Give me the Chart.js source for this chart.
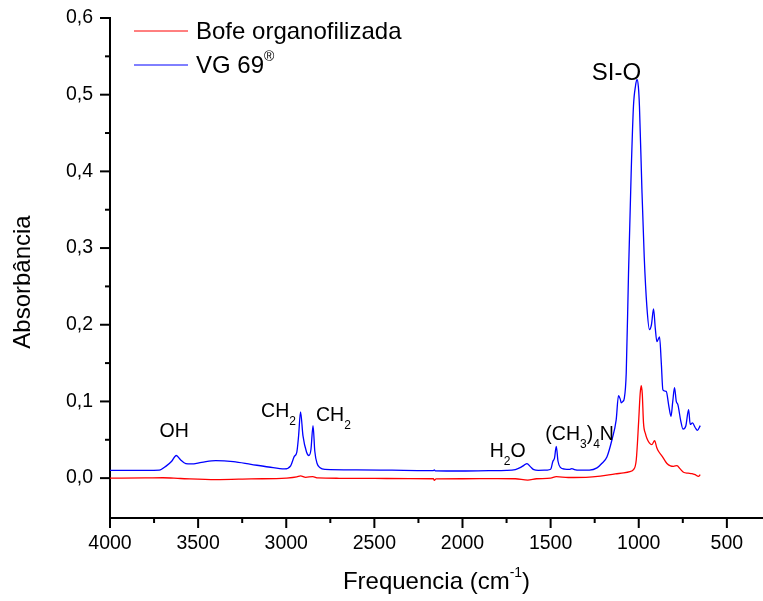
<!DOCTYPE html>
<html>
<head>
<meta charset="utf-8">
<script src="https://cdn.jsdelivr.net/npm/chart.js@4.4.1/dist/chart.umd.min.js"></script>
<style>
  body { margin: 0; background: #fff; }
  canvas { display: block; }
</style>
</head>
<body>
<canvas id="ftir" width="763" height="601"></canvas>
<script>
// wavenumber (cm-1) / absorbance
const wnRed = [4000, 3800, 3700, 3600, 3400, 3200, 3000, 2940, 2919, 2890, 2850, 2820, 2700, 2500, 2300,
  2165, 2160, 2150, 2000, 1800, 1700, 1630, 1580, 1500, 1468, 1400, 1300, 1218, 1133, 1086, 1050, 1030,
  1014, 1001, 992, 986, 980, 973, 962, 954, 940, 925, 910, 898, 888, 869, 855, 840, 820, 803, 783, 765,
  746, 720, 698, 680, 661, 651];
const absRed = [0.0, 0.0002, 0.0005, -0.0005, -0.002, -0.001, 0.0, 0.0015, 0.003, 0.001, 0.002, 0.0002, -0.0002, -0.0004, -0.0006,
  -0.0008, -0.003, -0.001, -0.0008, -0.0006, -0.0008, -0.0025, -0.0008, 0.0, 0.002, 0.0008, 0.001, 0.0025, 0.0055, 0.0068, 0.0085, 0.011,
  0.024, 0.072, 0.11, 0.1206, 0.11, 0.072, 0.058, 0.052, 0.046, 0.0437, 0.049, 0.04, 0.035, 0.029, 0.024, 0.019, 0.016, 0.0154, 0.0163, 0.012,
  0.0076, 0.0065, 0.0059, 0.0045, 0.0023, 0.0046];

const wnBlue = [4000, 3800, 3720, 3680, 3650, 3624, 3600, 3570, 3540, 3480, 3400, 3300, 3200, 3100, 3010,
  2975, 2955, 2940, 2930, 2919, 2905, 2885, 2872, 2860, 2848, 2838, 2825, 2808, 2780, 2600, 2400, 2200,
  2165, 2160, 2155, 2000, 1850, 1750, 1700, 1670, 1650, 1634, 1615, 1595, 1570, 1520, 1500, 1487, 1478,
  1468, 1458, 1445, 1420, 1390, 1379, 1365, 1330, 1280, 1237, 1210, 1180, 1152, 1128, 1115, 1105, 1099,
  1090, 1082, 1071, 1058, 1043, 1030, 1018, 1010, 1002, 996, 982, 969, 954, 939, 928, 916, 906, 897, 882,
  872, 863, 844, 830, 817, 807, 797, 787, 778, 762, 749, 733, 717, 708, 695, 680, 667, 651];
const absBlue = [0.01, 0.0102, 0.0105, 0.016, 0.022, 0.0295, 0.024, 0.019, 0.0185, 0.0205, 0.0228, 0.0215, 0.018, 0.0145, 0.012,
  0.016, 0.028, 0.034, 0.055, 0.0863, 0.055, 0.034, 0.0295, 0.037, 0.0684, 0.035, 0.019, 0.0135, 0.0115, 0.0108, 0.0103, 0.0098,
  0.0098, 0.0108, 0.0096, 0.0093, 0.0097, 0.01, 0.0112, 0.014, 0.017, 0.019, 0.015, 0.011, 0.0102, 0.0105, 0.0115, 0.022, 0.026,
  0.0415, 0.022, 0.014, 0.0118, 0.0115, 0.0125, 0.0112, 0.0105, 0.0105, 0.0133, 0.019, 0.028, 0.05, 0.076, 0.1076, 0.103, 0.098,
  0.1, 0.104, 0.137, 0.2675, 0.398, 0.485, 0.512, 0.52, 0.51, 0.485, 0.376, 0.289, 0.224, 0.1936, 0.2, 0.2206, 0.195, 0.178, 0.184,
  0.15, 0.115, 0.113, 0.095, 0.0806, 0.1, 0.118, 0.1, 0.0958, 0.075, 0.064, 0.068, 0.0893, 0.07, 0.072, 0.066, 0.0623, 0.0685];

const seriesNames = ['Bofe organofilizada', 'VG 69'];
const xMajor = [4000, 3500, 3000, 2500, 2000, 1500, 1000, 500];
const xMinor = [3750, 3250, 2750, 2250, 1750, 1250, 750];
const yMajor = [0, 0.1, 0.2, 0.3, 0.4, 0.5, 0.6];
const yMinor = [0.05, 0.15, 0.25, 0.35, 0.45, 0.55];

// band labels: [wavenumber, absorbance] anchor of left/middle of text, then text pieces
const bandLabels = [
  { wn: 3719, a: 0.0606, parts: [['OH']] },
  { wn: 3143, a: 0.0863, parts: [['CH'], ['2', 'sub']] },
  { wn: 2831, a: 0.0819, parts: [['CH'], ['2', 'sub']] },
  { wn: 1846, a: 0.0349, parts: [['H'], ['2', 'sub'], ['O']] },
  { wn: 1530, a: 0.0567, parts: [['(CH'], ['3', 'sub'], [')'], ['4', 'sub'], ['N']] },
  { wn: 1266, a: 0.528, parts: [['SI-O']], big: true }
];

const FONT = "'Liberation Sans', Arial, sans-serif";
Chart.defaults.font.family = FONT;
Chart.defaults.color = '#000';

function drawRich(ctx, x, y, parts, size) {
  ctx.textAlign = 'left';
  ctx.textBaseline = 'middle';
  parts.forEach(([t, kind]) => {
    let fs = size, dy = 0;
    if (kind === 'sub') { fs = 12; dy = 10; }
    if (kind === 'sup') { fs = 14; dy = -9; }
    ctx.font = fs + 'px ' + FONT;
    ctx.fillText(t, x, y + dy);
    x += ctx.measureText(t).width;
  });
}

const extras = {
  id: 'extras',
  afterDraw(chart) {
    const { ctx, chartArea, scales: { x, y } } = chart;
    ctx.save();
    ctx.strokeStyle = '#000';
    ctx.lineWidth = 2;
    const mark = (x1, y1, x2, y2) => { ctx.beginPath(); ctx.moveTo(x1, y1); ctx.lineTo(x2, y2); ctx.stroke(); };
    xMajor.forEach(v => { const p = x.getPixelForValue(v); mark(p, x.top, p, x.top + 10); });
    xMinor.forEach(v => { const p = x.getPixelForValue(v); mark(p, x.top, p, x.top + 5); });
    yMajor.forEach(v => { const p = y.getPixelForValue(v); mark(y.right, p, y.right - 10, p); });
    yMinor.forEach(v => { const p = y.getPixelForValue(v); mark(y.right, p, y.right - 5, p); });

    ctx.fillStyle = '#000';
    // axis titles
    const xt = [['Frequencia (cm'], ['-1', 'sup'], [')']];
    let w = 0;
    xt.forEach(([t, k]) => { ctx.font = (k ? 14 : 24) + 'px ' + FONT; w += ctx.measureText(t).width; });
    drawRich(ctx, (chartArea.left + chartArea.right) / 2 - w / 2, 582, xt, 24);

    ctx.save();
    ctx.translate(30, (chartArea.top + chartArea.bottom) / 2 + 14);
    ctx.rotate(-Math.PI / 2);
    ctx.font = '24px ' + FONT;
    ctx.textAlign = 'center';
    ctx.textBaseline = 'alphabetic';
    ctx.fillText('Absorbância', 0, 0);
    ctx.restore();

    // band labels
    bandLabels.forEach(l => {
      drawRich(ctx, x.getPixelForValue(l.wn), y.getPixelForValue(l.a), l.parts, l.big ? 24 : 19.5);
    });

    // legend
    const legendRows = [
      { color: chart.data.datasets[0].borderColor, parts: [[seriesNames[0]]] },
      { color: chart.data.datasets[1].borderColor, parts: [[seriesNames[1]], ['®', 'sup']] }
    ];
    legendRows.forEach((r, i) => {
      const ly = 31 + i * 34;
      ctx.strokeStyle = r.color;
      ctx.lineWidth = 1;
      mark(134, ly, 188, ly);
      ctx.fillStyle = '#000';
      drawRich(ctx, 196, ly + 1, r.parts, 24);
    });
    ctx.restore();
  }
};

const toPts = (xs, ys) => xs.map((v, i) => ({ x: v, y: ys[i] }));

new Chart(document.getElementById('ftir'), {
  type: 'line',
  data: {
    datasets: [
      { label: seriesNames[0], data: toPts(wnRed, absRed), borderColor: '#ff0000', borderWidth: 1.3,
        pointRadius: 0, cubicInterpolationMode: 'monotone', fill: false },
      { label: seriesNames[1], data: toPts(wnBlue, absBlue), borderColor: '#0000ff', borderWidth: 1.3,
        pointRadius: 0, cubicInterpolationMode: 'monotone', fill: false }
    ]
  },
  options: {
    responsive: false,
    animation: false,
    layout: { padding: { top: 18, right: 0, left: 0, bottom: 0 } },
    plugins: { legend: { display: false }, tooltip: { enabled: false } },
    scales: {
      x: {
        type: 'linear',
        reverse: true,
        min: 295,
        max: 4000,
        afterBuildTicks: s => { s.ticks = [...xMajor, ...xMinor].sort((a, b) => a - b).map(v => ({ value: v })); },
        afterFit: s => { s.height = 83; s.paddingLeft = 0; s.paddingRight = 0; },
        grid: { display: true, drawOnChartArea: false, drawTicks: false },
        border: { display: true, color: '#000', width: 2 },
        ticks: {
          autoSkip: false, maxRotation: 0, padding: 14,
          font: { size: 19.5 }, color: '#000',
          callback: v => xMajor.includes(v) ? String(v) : ''
        }
      },
      y: {
        min: -0.052,
        max: 0.6,
        afterBuildTicks: s => { s.ticks = [...yMajor, ...yMinor].sort((a, b) => a - b).map(v => ({ value: v })); },
        afterFit: s => { s.width = 110; s.paddingTop = 0; s.paddingBottom = 0; },
        grid: { display: true, drawOnChartArea: false, drawTicks: false },
        border: { display: true, color: '#000', width: 2 },
        ticks: {
          autoSkip: false, padding: 17,
          font: { size: 19.5 }, color: '#000',
          callback: v => yMajor.includes(v) ? v.toFixed(1).replace('.', ',') : ''
        }
      }
    }
  },
  plugins: [extras]
});
</script>
</body>
</html>
